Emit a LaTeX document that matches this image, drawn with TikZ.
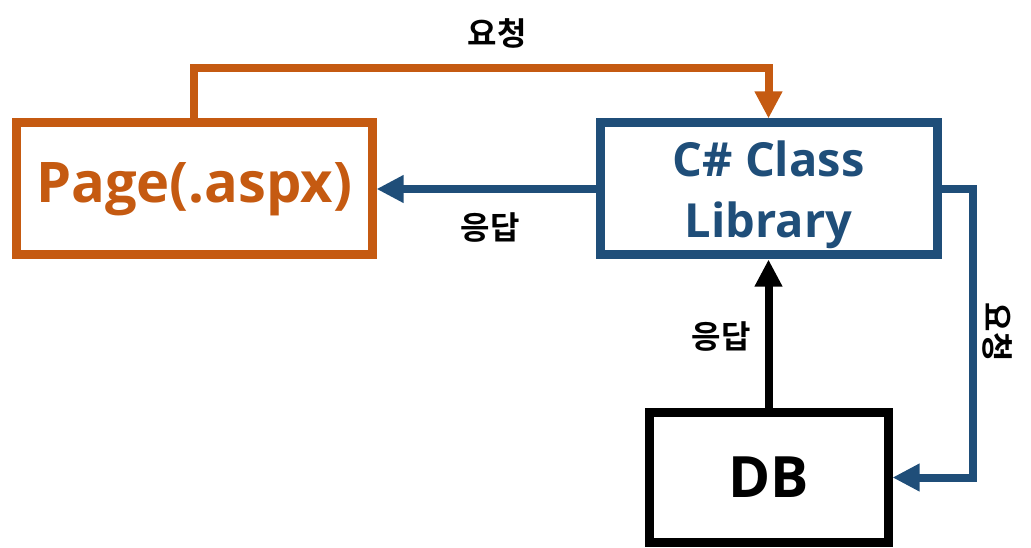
\documentclass[tikz,border=0pt]{standalone}
\usepackage{fontspec}
\setmainfont{Open Sans}[BoldFont={Open Sans Bold}]
\newfontfamily\kr{Noto Sans CJK KR}[BoldFont={Noto Sans CJK KR Bold}]
\usetikzlibrary{arrows.meta}
\definecolor{org}{HTML}{C55A11}
\definecolor{blu}{HTML}{1F4E79}
\begin{document}
\begin{tikzpicture}[x=1pt,y=-1pt,
  box/.style={draw,line width=9pt,inner sep=0pt,align=center},
  conn/.style={line width=8pt,-{Triangle[length=27pt,width=26pt]}},
  lbl/.style={font=\kr\bfseries\fontsize{32}{32}\selectfont,inner sep=0pt}]
\useasboundingbox (0,0) rectangle (1031,548);
\node[box,draw=org,text=org,minimum width=356pt,minimum height=132pt,font=\bfseries\fontsize{56}{60}\selectfont] (page) at (194,189) {Page(.aspx)};
\node[box,draw=blu,text=blu,minimum width=337pt,minimum height=132pt,font=\bfseries\fontsize{47}{61}\selectfont] (cls) at (768.5,189) {\rule{0pt}{48pt}C\# Class\\Library};
\node[box,draw=black,minimum width=239pt,minimum height=130pt,font=\bfseries\fontsize{57}{60}\selectfont] (db) at (768.5,477.5) {DB};
\coordinate (rt) at (973,189);
\draw[conn,org] (page.north) -- ++(0,-50) -| (cls.north);
\draw[conn,blu] (cls.west) -- (page.east);
\draw[conn,black] (db.north) -- (cls.south);
\draw[conn,blu] (cls.east) -- (rt) |- (db.east);
\node[lbl] (l1) at (497,33) {요청};
\node[lbl] (l2) at (490,228) {응답};
\node[lbl] (l3) at (721,337) {응답};
\node[lbl,rotate=-90] (l4) at (998,332) {요청};
\end{tikzpicture}
\end{document}
